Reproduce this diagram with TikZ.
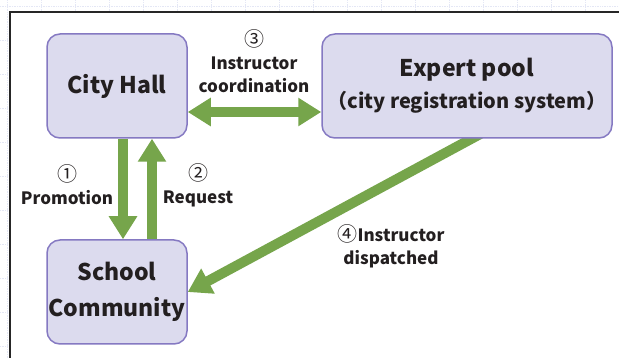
\documentclass[tikz,border=0pt]{standalone}
\usepackage{fontspec}
\setmainfont{Noto Sans CJK JP}
\usetikzlibrary{arrows.meta,backgrounds}
\definecolor{boxfill}{HTML}{DCDBEE}
\definecolor{boxline}{HTML}{8579C2}
\definecolor{arrowgreen}{HTML}{76A54B}
\definecolor{ink}{HTML}{231F20}
\definecolor{gridc}{HTML}{E4E7F5}
\newcommand{\cnum}[1]{{\mdseries\fontsize{20}{23}\selectfont #1}}
\begin{document}
\begin{tikzpicture}[x=1pt,y=-1pt,
  box/.style={draw=boxline, fill=boxfill, line width=1.5pt, rounded corners=13pt,
    minimum width=140pt, minimum height=104pt, inner sep=0pt, align=center,
    text=ink, font=\bfseries\fontsize{23}{36}\selectfont},
  lab/.style={align=center, text=ink, inner sep=0pt, font=\bfseries\fontsize{17}{23}\selectfont},
  bigarrow/.style={draw=arrowgreen, line width=10pt, -{Triangle[length=23pt,width=27pt]}},
  dblarrow/.style={draw=arrowgreen, line width=10pt, {Triangle[length=23pt,width=27pt]}-{Triangle[length=23pt,width=27pt]}},
]
\useasboundingbox (0,0) rectangle (619,358);
\begin{scope}[on background layer]
  \fill[white] (0,0) rectangle (619,358);
  \draw[gridc, densely dotted, line width=0.7pt, shift={(7,6)}] (-7,-6) grid[step=34pt] (612,352);
  \fill[white] (10,12) rectangle (619,358);
  \draw[black!85, line width=1.1pt] (10,358) -- (10,12) -- (619,12);
\end{scope}

\node[box] (ch) at (117,86) {City Hall};
\node[box, minimum width=290pt] (ep) at (467,86) {Expert pool\\[-4pt]{\fontsize{20}{24}\selectfont （city registration system）}};
\node[box] (sc) at (117,292) {School\\Community};

\node[lab] (l3) at (254,61) {\cnum{③}\\Instructor\\coordination};
\node[lab] (l1) at (67,185) {\cnum{①}\\Promotion};
\node[lab] (l2) at (198,185) {\cnum{②}\\Request};
\node[lab] (l4) at (391,246) {\cnum{④}Instructor\\dispatched};

\begin{scope}[on background layer]
  \draw[bigarrow] ([xshift=6pt]ch.south) -- ([xshift=6pt]sc.north);
  \draw[bigarrow] ([xshift=35pt]sc.north) -- ([xshift=35pt]ch.south);
  \draw[dblarrow] ([yshift=-26pt]ch.east) -- ([yshift=-26pt]ep.west);
  \draw[bigarrow] ([xshift=23pt,yshift=10pt]ep.south) -- (sc.east);
\end{scope}
\end{tikzpicture}
\end{document}
